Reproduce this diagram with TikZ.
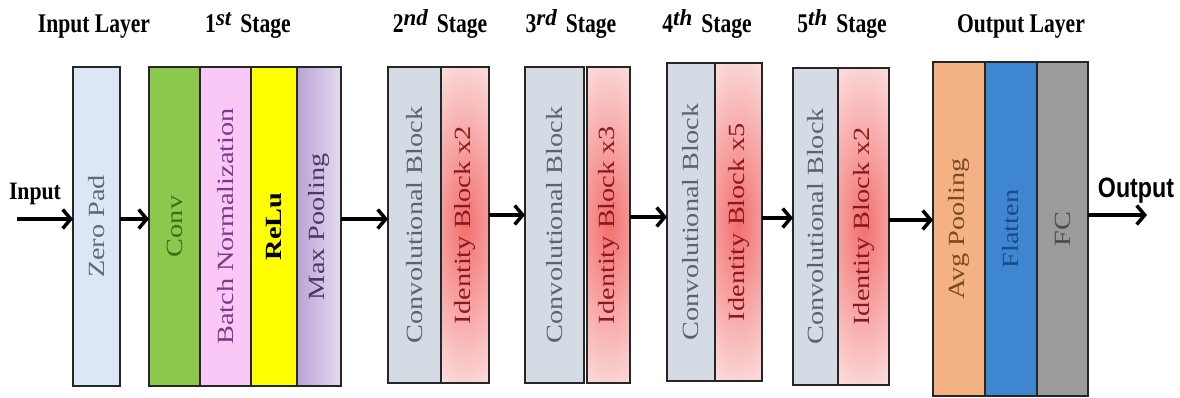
\documentclass[tikz,border=0pt]{standalone}
\usepackage{fontspec}
\setmainfont{Liberation Serif}
\newfontfamily\boxfont[FakeStretch=1.22]{Liberation Serif}
\newfontfamily\titlefont[FakeStretch=0.8]{Liberation Serif}
\newfontfamily\inlabfont[FakeStretch=0.87]{Liberation Serif}
\newfontfamily\outlabfont[FakeStretch=0.83]{Liberation Sans}
\newfontfamily\supfont{Liberation Serif}
\usetikzlibrary{arrows.meta}
\definecolor{zpfill}{RGB}{220,230,244}
\definecolor{zptext}{RGB}{100,105,118}
\definecolor{convfill}{RGB}{140,200,75}
\definecolor{convtext}{RGB}{50,115,30}
\definecolor{bnfill}{RGB}{250,200,246}
\definecolor{bntext}{RGB}{123,59,133}
\definecolor{relufill}{RGB}{255,255,0}
\definecolor{mpleft}{RGB}{185,162,214}
\definecolor{mpright}{RGB}{228,220,240}
\definecolor{mptext}{RGB}{75,56,102}
\definecolor{cbfill}{RGB}{213,219,229}
\definecolor{cbtext}{RGB}{92,98,110}
\definecolor{ibinner}{RGB}{242,110,110}
\definecolor{ibouter}{RGB}{252,222,222}
\definecolor{ibtext}{RGB}{140,25,25}
\definecolor{apfill}{RGB}{244,177,131}
\definecolor{aptext}{RGB}{122,74,34}
\definecolor{flfill}{RGB}{62,134,208}
\definecolor{fltext}{RGB}{25,75,140}
\definecolor{fcfill}{RGB}{155,155,155}
\definecolor{fctext}{RGB}{75,75,75}
\newcommand{\bx}[1]{\rotatebox{90}{#1}}
\newcommand{\supx}[1]{\raisebox{7pt}{\supfont\fontsize{23}{23}\selectfont\bfseries\itshape #1}}
\begin{document}
\begin{tikzpicture}[x=1pt,y=-1pt,
  box/.style={draw=black!85, line width=1.8pt, inner sep=0pt, outer sep=0pt,
    font=\boxfont\fontsize{23.2}{24}\selectfont},
  ibox/.style={box, fill=ibouter, text=ibtext,
    path picture={\shade[inner color=ibinner, outer color=ibouter]
      (path picture bounding box.center) ellipse (58pt and 175pt);}},
  cbox/.style={box, fill=cbfill, text=cbtext},
  title/.style={anchor=base, inner sep=0pt, font=\titlefont\bfseries\fontsize{27}{30}\selectfont},
  arr/.style={line width=3.5pt, -{Straight Barb[length=8pt,width=19pt]}}
]
\useasboundingbox (0,0) rectangle (1180,398);

% titles
\node[title] (tin) at (94,33) {Input Layer};
\node[title] (t1) at (248,33) {1\supx{st}\hspace{9pt}Stage};
\node[title] (t2) at (440,33) {2\supx{nd}\hspace{9pt}Stage};
\node[title] (t3) at (571,33) {3\supx{rd}\hspace{9pt}Stage};
\node[title] (t4) at (707,33) {4\supx{th}\hspace{9pt}Stage};
\node[title] (t5) at (842,33) {5\supx{th}\hspace{9pt}Stage};
\node[title] (tout) at (1021,33) {Output Layer};

% input layer
\node[box, fill=zpfill, text=zptext, minimum width=47pt, minimum height=319pt] (zp) at (96.5,226.5) {\bx{Zero Pad}};

% stage 1
\node[box, fill=convfill, text=convtext, minimum width=51pt, minimum height=319pt] (conv) at (174.5,226.5) {\bx{Conv}};
\node[box, fill=bnfill, text=bntext, minimum width=51pt, minimum height=319pt] (bn) at (225.5,226.5) {\bx{Batch Normalization}};
\node[box, fill=relufill, text=black, minimum width=46pt, minimum height=319pt] (relu) at (274,226.5) {\bx{\bfseries ReLu}};
\node[box, left color=mpleft, right color=mpright, text=mptext, minimum width=44pt, minimum height=319pt] (mp) at (319,226.5) {\bx{Max Pooling}};

% stage 2
\node[cbox, minimum width=53pt, minimum height=316pt] (c2) at (414.5,225) {\bx{Convolutional Block}};
\node[ibox, minimum width=48pt, minimum height=316pt] (i2) at (465,225) {\bx{Identity Block x2}};

% stage 3
\node[cbox, minimum width=59pt, minimum height=316pt] (c3) at (554.5,225) {\bx{Convolutional Block}};
\node[ibox, minimum width=43pt, minimum height=316pt] (i3) at (608.5,225) {\bx{Identity Block x3}};

% stage 4
\node[cbox, minimum width=48pt, minimum height=318pt] (c4) at (691,222) {\bx{Convolutional Block}};
\node[ibox, minimum width=47pt, minimum height=318pt] (i4) at (738.5,222) {\bx{Identity Block x5}};

% stage 5
\node[cbox, minimum width=45pt, minimum height=317pt] (c5) at (815.5,226.5) {\bx{Convolutional Block}};
\node[ibox, minimum width=51pt, minimum height=317pt] (i5) at (863.5,226.5) {\bx{Identity Block x2}};

% output layer
\node[box, fill=apfill, text=aptext, minimum width=52pt, minimum height=334pt] (ap) at (959,229) {\bx{Avg Pooling}};
\node[box, fill=flfill, text=fltext, minimum width=52pt, minimum height=334pt] (fl) at (1011,229) {\bx{Flatten}};
\node[box, fill=fcfill, text=fctext, minimum width=51pt, minimum height=334pt] (fc) at (1062.5,229) {\bx{FC}};

% side labels
\node[anchor=base, inner sep=0pt, font=\inlabfont\bfseries\fontsize{25}{28}\selectfont] (inl) at (35,200) {Input};
\node[anchor=base, inner sep=0pt, font=\outlabfont\bfseries\fontsize{28}{30}\selectfont] (outl) at (1136,197) {Output};

% arrow levels
\coordinate (in) at (17,219);
\coordinate (out) at (1147,215);
\coordinate (l1) at (0,219);
\coordinate (l2) at (0,215);
\coordinate (l3) at (0,217);
\coordinate (l4) at (0,218);
\coordinate (l5) at (0,220);

\draw[arr] (in) -- (in -| zp.west);
\draw[arr] (zp.east |- l1) -- (conv.west |- l1);
\draw[arr] (mp.east |- l1) -- (c2.west |- l1);
\draw[arr] (i2.east |- l2) -- (c3.west |- l2);
\draw[arr] (i3.east |- l3) -- (c4.west |- l3);
\draw[arr] (i4.east |- l4) -- (c5.west |- l4);
\draw[arr] (i5.east |- l5) -- (ap.west |- l5);
\draw[arr] (fc.east |- out) -- (out);
\end{tikzpicture}
\end{document}
